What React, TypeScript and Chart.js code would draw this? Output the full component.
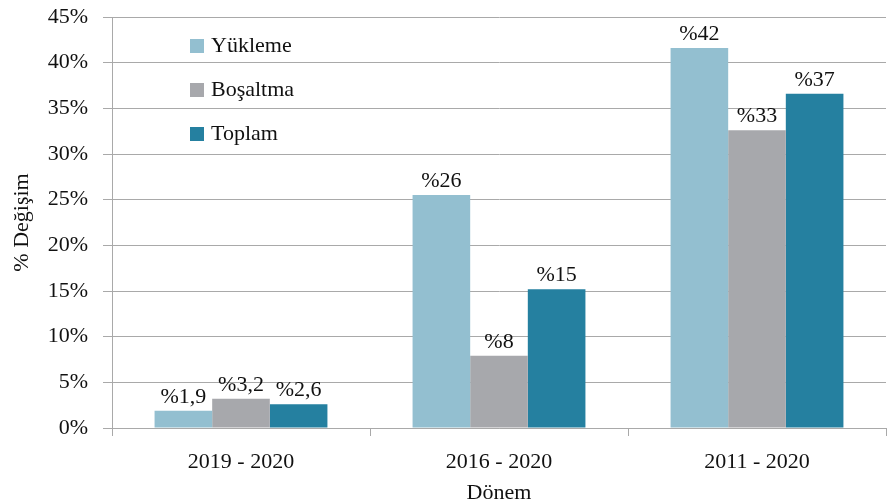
import React, { useEffect, useRef } from "react";
import { Chart, registerables } from "chart.js";

Chart.register(...registerables);

const categories = ["2019 - 2020", "2016 - 2020", "2011 - 2020"];
const seriesNames = ["Yükleme", "Boşaltma", "Toplam"];
const yukleme = [1.9, 25.5, 41.6];
const bosaltma = [3.2, 7.9, 32.6];
const toplam = [2.6, 15.2, 36.6];
const yuklemeLabels = ["%1,9", "%26", "%42"];
const bosaltmaLabels = ["%3,2", "%8", "%33"];
const toplamLabels = ["%2,6", "%15", "%37"];
const seriesColors = ["#93BFD0", "#A7A8AC", "#2580A0"];
const yAxisTitle = "% Değişim";
const xAxisTitle = "Dönem";

const FONT = "'Liberation Serif', 'Times New Roman', serif";
const FS = 22;
const TEXT = "#111111";
const GRID = "#A9A9A9";

const allLabels = [yuklemeLabels, bosaltmaLabels, toplamLabels];

const dataLabelPlugin = {
  id: "dataLabels",
  afterDatasetsDraw(chart: any) {
    const ctx = chart.ctx;
    ctx.save();
    ctx.font = `${FS}px ${FONT}`;
    ctx.fillStyle = TEXT;
    ctx.textAlign = "center";
    ctx.textBaseline = "alphabetic";
    chart.data.datasets.forEach((ds: any, i: number) => {
      const meta = chart.getDatasetMeta(i);
      meta.data.forEach((el: any, j: number) => {
        ctx.fillText(allLabels[i][j], el.x, el.y - 8);
      });
    });
    ctx.restore();
  },
};

const legendPlugin = {
  id: "innerLegend",
  afterDraw(chart: any) {
    const ctx = chart.ctx;
    ctx.save();
    ctx.font = `${FS}px ${FONT}`;
    ctx.textBaseline = "middle";
    ctx.textAlign = "left";
    chart.data.datasets.forEach((ds: any, i: number) => {
      const cy = 46 + i * 44;
      ctx.fillStyle = ds.backgroundColor;
      ctx.fillRect(190, cy - 7, 14, 14);
      ctx.fillStyle = TEXT;
      ctx.fillText(ds.label, 211, cy);
    });
    ctx.restore();
  },
};

export default function App() {
  const ref = useRef<HTMLCanvasElement>(null);
  useEffect(() => {
    document.body.style.margin = "0";
    const chart = new Chart(ref.current!, {
      type: "bar",
      data: {
        labels: categories,
        datasets: [yukleme, bosaltma, toplam].map((d, i) => ({
          label: seriesNames[i],
          data: d,
          backgroundColor: seriesColors[i],
          borderWidth: 0,
          categoryPercentage: 0.67,
          barPercentage: 1.0,
        })),
      },
      options: {
        animation: false,
        responsive: false,
        maintainAspectRatio: false,
        layout: { padding: { left: 9, top: 17, right: 1, bottom: 0 } },
        plugins: {
          legend: { display: false },
          tooltip: { enabled: false },
        },
        scales: {
          x: {
            grid: {
              display: true,
              drawOnChartArea: false,
              drawTicks: true,
              tickLength: 8,
              color: GRID,
              offset: true,
            },
            border: { display: true, color: GRID, width: 1 },
            ticks: {
              color: TEXT,
              font: { family: FONT, size: FS },
              padding: 13,
            },
            title: {
              display: true,
              text: xAxisTitle,
              color: TEXT,
              font: { family: FONT, size: FS },
              padding: { top: 0, bottom: -2 },
            },
            afterFit(scale: any) {
              scale.height = 76;
              scale.paddingLeft = 0;
              scale.paddingRight = 0;
            },
          },
          y: {
            min: 0,
            max: 45,
            grid: {
              color: GRID,
              tickLength: 9,
              drawTicks: true,
            },
            border: { display: true, color: GRID, width: 1 },
            ticks: {
              stepSize: 5,
              color: TEXT,
              font: { family: FONT, size: FS },
              padding: 15,
              callback: (v: any) => `${v}%`,
            },
            title: {
              display: true,
              text: yAxisTitle,
              color: TEXT,
              font: { family: FONT, size: FS },
              padding: { top: 0, bottom: 0 },
            },
            afterFit(scale: any) {
              scale.width = 103;
              scale.paddingTop = 0;
              scale.paddingBottom = 0;
            },
          },
        },
      },
      plugins: [dataLabelPlugin, legendPlugin],
    });
    return () => chart.destroy();
  }, []);
  return (
    <div style={{ width: 887, height: 504, position: "relative" }}>
      <canvas ref={ref} width={887} height={504} style={{ width: 887, height: 504, display: "block" }} />
    </div>
  );
}
